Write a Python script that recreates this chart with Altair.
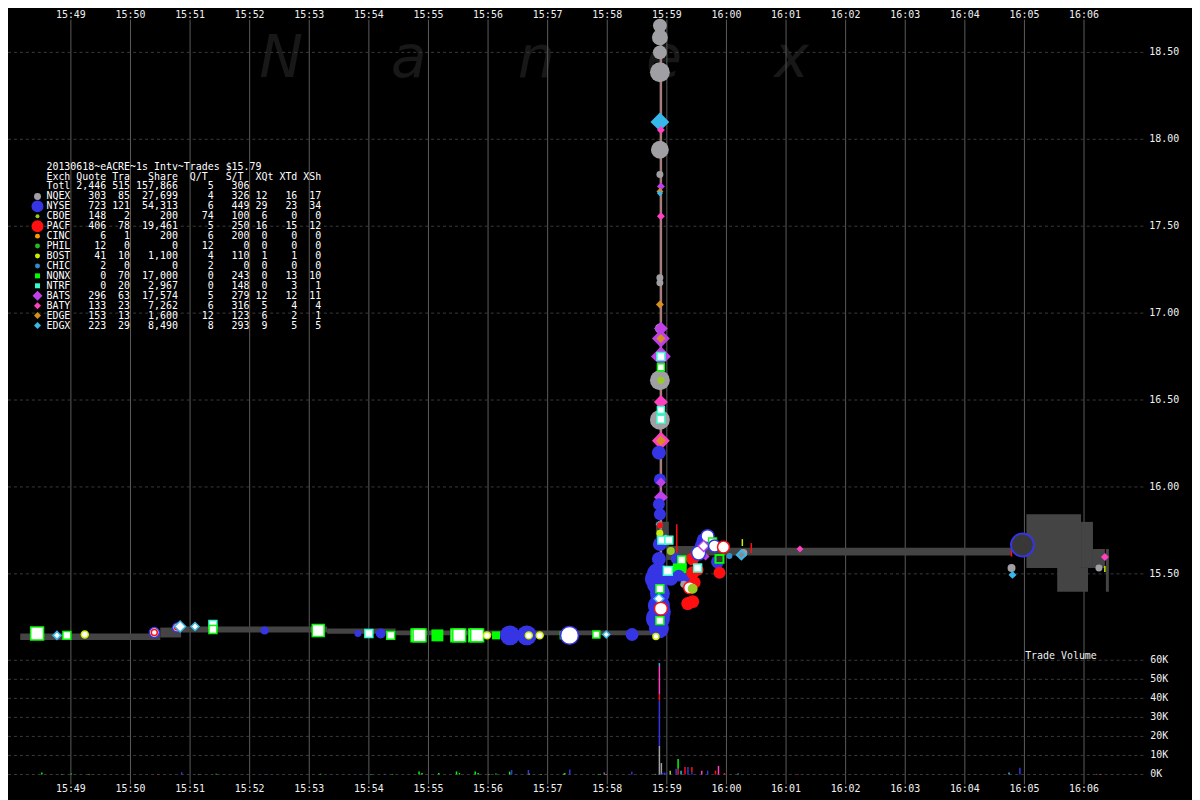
import altair as alt
import pandas as pd

W, H = 1192, 792
MONO = "DejaVu Sans Mono"

# ---------------- exchanges ----------------
EXCH = ["NQEX", "NYSE", "CBOE", "PACF", "CINC", "PHIL", "BOST", "CHIC",
        "NQNX", "NTRF", "BATS", "BATY", "EDGE", "EDGX"]
EX_COLOR = ["#a0a0a4", "#3535e6", "#99cc22", "#ff1010", "#ff9a00", "#22bb22", "#ccee00", "#2f8fce",
            "#00ff00", "#33ffcc", "#c040e8", "#ff40c0", "#d8901c", "#38b8ea"]
EX_SHAPE = ["circle"] * 8 + ["square"] * 2 + ["diamond"] * 4

# ---------------- summary table ----------------
TBL_TITLE = "20130618~eACRE~1s Intv~Trades $15.79"
TBL_HEAD = ["Exch", "Quote", "Tra", "Share", "Q/T", "S/T", "XQt", "XTd", "XSh"]
TBL_TOTAL = ["Totl", "2,446", "515", "157,866", "5", "306"]
TBL_QUOTE = [303, 723, 148, 406, 6, 12, 41, 2, 0, 0, 296, 133, 153, 223]
TBL_TRA = [85, 121, 2, 78, 1, 0, 10, 0, 70, 20, 63, 23, 13, 29]
TBL_SHARE = [27699, 54313, 200, 19461, 200, 0, 1100, 0, 17000, 2967, 17574, 7262, 1600, 8490]
TBL_QT = [4, 6, 74, 5, 6, 12, 4, 2, 0, 0, 5, 6, 12, 8]
TBL_ST = [326, 449, 100, 250, 200, 0, 110, 0, 243, 148, 279, 316, 123, 293]
TBL_XQT = [12, 29, 6, 16, 0, 0, 1, 0, 0, 0, 12, 5, 6, 9]
TBL_XTD = [16, 23, 0, 15, 0, 0, 1, 0, 13, 3, 12, 4, 2, 5]
TBL_XSH = [17, 34, 0, 12, 0, 0, 0, 0, 10, 1, 11, 4, 1, 5]
TBL_SYM_D = [7, 12, 4, 12, 5, 5, 5, 5, 5, 5, 10, 7, 7, 7]

# ---------------- axes ----------------
MIN_T = [0, 60, 120, 180, 240, 300, 360, 420, 480, 540, 600, 660, 720, 780, 840, 900, 960, 1020]
MIN_LABEL = ["15:49", "15:50", "15:51", "15:52", "15:53", "15:54", "15:55", "15:56", "15:57",
             "15:58", "15:59", "16:00", "16:01", "16:02", "16:03", "16:04", "16:05", "16:06"]
PRICE_T = [15.5, 16.0, 16.5, 17.0, 17.5, 18.0, 18.5]
PRICE_LABEL = ["15.50", "16.00", "16.50", "17.00", "17.50", "18.00", "18.50"]
VOL_T = [0, 10000, 20000, 30000, 40000, 50000, 60000]
VOL_LABEL = ["0K", "10K", "20K", "30K", "40K", "50K", "60K"]

# ---------------- NBBO band (seconds after 15:49:00, prices) ----------------
BAND_T1 = [-51, 90, 111, 258, 327, 589, 600, 629, 962, 1017, 1029, 993, 1042]
BAND_T2 = [90, 111, 258, 327, 590, 602, 629, 947, 1017, 1029, 1041, 1024, 1045]
BAND_LO = [15.12, 15.134, 15.162, 15.155, 15.147, 15.66, 15.58, 15.606, 15.534, 15.534, 15.534, 15.397, 15.397]
BAND_HI = [15.157, 15.191, 15.197, 15.186, 15.174, 15.80, 15.66, 15.65, 15.843, 15.799, 15.643, 15.534, 15.643]

# ---------------- quotes (filled) ----------------
Q_T = [195, 289, 312, 369, 428, 442, 459, 496, 565,
       593, 593, 593, 593, 593, 594, 593, 593, 594, 593, 593, 594, 593, 593, 593,
       593, 594, 594, 594, 594, 593, 594, 594, 593, 594, 594, 594,
       592, 593, 594, 594, 592, 593, 592, 593, 593, 604, 593, 591, 589, 592, 591, 593, 599,
       592, 593, 592, 593, 590, 594,
       610, 613, 619, 617, 626, 626, 626, 621, 626, 635, 639, 651, 653, 660, 663, 677,
       604, 631, 637, 612, 628,
       734, 947, 948, 1035, 1041]
Q_P = [15.174, 15.157, 15.157, 15.146, 15.146, 15.146, 15.146, 15.146, 15.151,
       18.654, 18.586, 18.50, 18.386, 18.10, 18.054, 17.94, 17.797, 17.729, 17.70, 17.69, 17.557, 17.203, 17.174, 17.049,
       16.911, 16.911, 16.854, 16.854, 16.751, 16.614, 16.614, 16.489, 16.386, 16.386, 16.266, 16.266,
       16.197, 16.043, 16.026, 15.94, 15.90, 15.843, 15.786, 15.78, 15.734, 15.631, 15.597, 15.50, 15.471, 15.317, 15.243, 15.40, 15.71,
       15.186, 15.386, 15.586, 15.671, 15.44, 15.28,
       15.586, 15.52, 15.471, 15.44, 15.586, 15.506, 15.414, 15.329, 15.34, 15.66, 15.60, 15.569, 15.506, 15.66, 15.603, 15.62,
       15.471, 15.523, 15.694, 15.49, 15.45,
       15.643, 15.534, 15.494, 15.534, 15.597]
Q_EX = ["NYSE", "NYSE", "NYSE", "NQNX", "NQNX", "NYSE", "NYSE", "NQNX", "NYSE",
        "NQEX", "NQEX", "NQEX", "NQEX", "EDGX", "BATY", "NQEX", "NQEX", "BATS", "EDGE", "EDGX", "BATY", "NQEX", "NQEX", "EDGE",
        "NQEX", "BATS", "BATS", "EDGE", "BATS", "NQEX", "CBOE", "BATY", "NQEX", "PACF", "BATY", "EDGE",
        "NYSE", "NYSE", "BATS", "BATS", "NYSE", "NYSE", "EDGX", "PACF", "BOST", "CBOE", "BATS", "NYSE", "NYSE", "NYSE", "NYSE", "NYSE", "EDGX",
        "NYSE", "NYSE", "NYSE", "NYSE", "NYSE", "NYSE",
        "NYSE", "NQNX", "NYSE", "NQEX", "PACF", "PACF", "CBOE", "PACF", "PACF", "NYSE", "BATS", "NYSE", "PACF", "CHIC", "CHIC", "NQEX",
        "NYSE", "PACF", "NYSE", "NYSE", "PACF",
        "BATY", "NQEX", "EDGX", "NQEX", "BATY"]
Q_D = [8, 7, 10, 12, 8, 20, 20, 8, 13,
       14, 16, 14, 20, 19, 8, 18, 7, 8, 7, 6, 8, 7, 7, 8,
       10, 14, 18, 9, 20, 20, 7, 14, 20, 7, 18, 10,
       14, 12, 10, 14, 12, 12, 7, 6, 7, 8, 10, 22, 22, 22, 24, 18, 6,
       20, 20, 14, 14, 20, 20,
       12, 14, 12, 7, 13, 13, 8, 13, 13, 14, 8, 13, 12, 6, 6, 8,
       14, 12, 14, 12, 12,
       7, 8, 8, 7, 8]

# ---------------- trades (white with exchange outline) ----------------
T_T = [-34, -14, -4, 14, 84, 84, 107, 107, 110, 125, 143, 143, 249, 300, 322, 349, 351, 389, 391, 407, 409,
       419, 461, 472, 502, 529, 539, 589,
       594, 594, 594, 594, 595, 592, 594, 593, 593, 601, 602, 615, 623, 631,
       632, 641, 637, 646, 648, 657]
T_P = [15.157, 15.146, 15.146, 15.151, 15.163, 15.163, 15.191, 15.191, 15.197, 15.197, 15.209, 15.18, 15.174, 15.157, 15.146,
       15.146, 15.146, 15.146, 15.146, 15.146, 15.146,
       15.146, 15.146, 15.146, 15.146, 15.151, 15.151, 15.14,
       16.751, 16.689, 16.443, 16.39, 15.694, 15.357, 15.30, 15.414, 15.231, 15.517, 15.694, 15.58, 15.42, 15.534,
       15.62, 15.717, 15.66, 15.683, 15.66, 15.654]
T_EX = ["NQNX", "EDGX", "NQNX", "BOST", "NYSE", "PACF", "NYSE", "PACF", "EDGX", "EDGX", "NTRF", "NQNX", "NQNX", "NTRF", "NQNX",
        "NQNX", "NQNX", "NQNX", "NQNX", "NQNX", "NQNX",
        "BOST", "BOST", "BOST", "NYSE", "NQNX", "EDGX", "BOST",
        "NTRF", "NQNX", "NTRF", "NTRF", "NTRF", "EDGX", "PACF", "NQNX", "NQNX", "NTRF", "NTRF", "NQNX", "PACF", "NTRF",
        "NYSE", "NYSE", "BATS", "NQNX", "NYSE", "PACF"]
T_D = [13, 8, 8, 7, 10, 6, 9, 5, 11, 8, 8, 8, 12, 8, 8, 13, 13, 13, 13, 13, 13,
       7, 7, 7, 18, 7, 7, 6,
       8, 7, 7, 8, 8, 10, 13, 8, 8, 9, 8, 8, 12, 8,
       14, 13, 11, 8, 12, 12]

# ---------------- marks with their own fill ----------------
O_T = [958, 653, 675, 626]
O_P = [15.666, 15.586, 15.609, 15.414]
O_EX = ["NYSE", "NQNX", "EDGX", "CBOE"]
O_FILL = ["#383838", "#383838", "#8a8a8a", "#99cc22"]
O_D = [23, 8, 9, 8]

# ---------------- small trade ticks ----------------
K_T = [610, 685, 676, 947, 1041]
K_P1 = [15.603, 15.62, 15.66, 15.60, 15.51]
K_P2 = [15.786, 15.677, 15.70, 15.64, 15.545]
K_EX = ["PACF", "PACF", "BOST", "PACF", "BOST"]

# ---------------- spike ----------------
SPIKE_T = [594]
SPIKE_LO = [15.15]
SPIKE_HI = [18.63]

# ---------------- trade volume (shares per second) ----------------
V_T = [-34, -14, -4, 14, 84, 108, 125, 143, 195, 249, 289, 300, 314, 322,
       349, 352, 369, 387, 390, 406, 409, 420, 427, 441, 443, 447, 460, 461, 473, 496, 497, 502, 531, 533, 537, 539, 565, 589,
       593, 593, 593, 593, 593,
       595, 596, 598, 600, 604, 610, 612, 612, 615, 619, 622, 626, 626, 636, 642, 650, 653, 659, 673, 734, 948, 959, 1037, 1041]
V_EX = ["NQNX", "EDGX", "NQNX", "BOST", "PACF", "NYSE", "EDGX", "NQNX", "NYSE", "NQNX", "NYSE", "NTRF", "NYSE", "NQNX",
        "NQNX", "NQNX", "NQNX", "NQNX", "NQNX", "NQNX", "NQNX", "BOST", "NQNX", "NQNX", "NYSE", "NYSE", "NYSE", "BOST", "BOST",
        "BOST", "NQNX", "NYSE", "NQNX", "NQNX", "BATS", "BOST", "NYSE", "BOST",
        "NQEX", "NYSE", "PACF", "BATY", "EDGX",
        "NQEX", "NYSE", "NYSE", "NYSE", "CBOE", "NYSE", "PACF", "NQNX", "EDGX", "PACF", "NYSE", "PACF", "NYSE", "BATY", "NYSE",
        "PACF", "BATY", "PACF", "EDGX", "PACF", "EDGX", "NYSE", "BATY", "BATY"]
V_SH = [1000, 300, 500, 300, 300, 1200, 300, 400, 300, 400, 300, 300, 400, 300,
        1600, 800, 800, 1600, 800, 1600, 800, 300, 500, 1500, 2400, 300, 2400, 400, 300, 400, 800, 2600, 300, 300, 1000, 300, 1500, 300,
        15000, 24000, 3000, 15000, 1500,
        6000, 800, 1000, 1000, 2000, 3000, 3000, 5200, 2000, 4000, 4000, 3000, 1000, 2000, 2000, 2000, 4500, 800, 500, 300, 1000, 3500, 300, 300]

WATERMARK = ["N", "a", "n", "e", "x"]

# ================= build =================
xs = alt.Scale(domain=[-63.3, 1128.7], nice=False, zero=False)
ps = alt.Scale(domain=[14.2143, 18.74], nice=False, zero=False)
vs = alt.Scale(domain=[-12000, 401217], nice=False, zero=False)
cs = alt.Scale(domain=EXCH, range=EX_COLOR)
ss = alt.Scale(domain=EXCH, range=EX_SHAPE)

X = lambda f: alt.X(f, scale=xs, axis=None)
YP = lambda f: alt.Y(f, scale=ps, axis=None)

df_min = pd.DataFrame({"t": MIN_T, "lab": MIN_LABEL})
df_pt = pd.DataFrame({"p": PRICE_T, "lab": PRICE_LABEL})
df_vt = pd.DataFrame({"v": VOL_T, "lab": VOL_LABEL})

grid_v = alt.Chart(df_min).mark_rule(color="#5c5c5c", strokeWidth=1).encode(
    x=X("t:Q"), y=alt.value(9), y2=alt.value(779))
grid_p = alt.Chart(df_pt).mark_rule(color="#3a3a3a", strokeDash=[3, 3], strokeWidth=1).encode(
    y=YP("p:Q"), x=alt.value(0), x2=alt.value(1145))
grid_vol = alt.Chart(df_vt).mark_rule(color="#3a3a3a", strokeDash=[3, 3], strokeWidth=1).encode(
    y=alt.Y("v:Q", scale=vs, axis=None), x=alt.value(0), x2=alt.value(1145))

df_wm = pd.DataFrame({"ch": WATERMARK, "i": list(range(len(WATERMARK)))})
df_wm["px"] = 275 + 128.5 * df_wm["i"]
df_wm["py"] = 67
watermark = alt.Chart(df_wm).mark_text(
    font="DejaVu Sans", fontStyle="italic", fontSize=59, color="#181818", align="center",
    baseline="alphabetic").encode(
    x=alt.X("px:Q", scale=None, axis=None), y=alt.Y("py:Q", scale=None, axis=None), text="ch:N")

df_band = pd.DataFrame({"t1": BAND_T1, "t2": BAND_T2, "lo": BAND_LO, "hi": BAND_HI})
band = alt.Chart(df_band).mark_rect(color="#444444").encode(
    x=X("t1:Q"), x2="t2:Q", y=YP("lo:Q"), y2="hi:Q")

df_spike = pd.DataFrame({"t": SPIKE_T, "lo": SPIKE_LO, "hi": SPIKE_HI})
spike = alt.Chart(df_spike).mark_rule(color="#8c8c8c", strokeWidth=2.5).encode(
    x=X("t:Q"), y=YP("lo:Q"), y2="hi:Q")
spike_red = alt.Chart(df_spike).mark_rule(color="#e06060", strokeWidth=0.8).encode(
    x=X("t:Q"), y=YP("lo:Q"), y2="hi:Q")

df_k = pd.DataFrame({"t": K_T, "p1": K_P1, "p2": K_P2, "ex": K_EX})
ticks = alt.Chart(df_k).mark_rule(strokeWidth=1.5).encode(
    x=X("t:Q"), y=YP("p1:Q"), y2="p2:Q", color=alt.Color("ex:N", scale=cs, legend=None))

df_q = pd.DataFrame({"t": Q_T, "p": Q_P, "ex": Q_EX, "d": Q_D})
df_q["s"] = df_q["d"] ** 2
quotes = alt.Chart(df_q).mark_point(filled=True, opacity=1, strokeWidth=0).encode(
    x=X("t:Q"), y=YP("p:Q"),
    color=alt.Color("ex:N", scale=cs, legend=None),
    shape=alt.Shape("ex:N", scale=ss, legend=None),
    size=alt.Size("s:Q", scale=None, legend=None))

df_t = pd.DataFrame({"t": T_T, "p": T_P, "ex": T_EX, "d": T_D})
df_t["s"] = df_t["d"] ** 2
trades = alt.Chart(df_t).mark_point(filled=True, fill="white", opacity=1, strokeWidth=1.5).encode(
    x=X("t:Q"), y=YP("p:Q"),
    stroke=alt.Stroke("ex:N", scale=cs, legend=None),
    shape=alt.Shape("ex:N", scale=ss, legend=None),
    size=alt.Size("s:Q", scale=None, legend=None))

df_o = pd.DataFrame({"t": O_T, "p": O_P, "ex": O_EX, "d": O_D, "fc": O_FILL})
df_o["s"] = df_o["d"] ** 2
outl = alt.Chart(df_o).mark_point(filled=True, opacity=1, strokeWidth=2).encode(
    x=X("t:Q"), y=YP("p:Q"),
    fill=alt.Fill("fc:N", scale=None, legend=None),
    stroke=alt.Stroke("ex:N", scale=cs, legend=None),
    shape=alt.Shape("ex:N", scale=ss, legend=None),
    size=alt.Size("s:Q", scale=None, legend=None))

df_v = pd.DataFrame({"t": V_T, "ex": V_EX, "sh": V_SH})
df_v["oi"] = df_v["ex"].map({e: i for i, e in enumerate(EXCH)})
vol = alt.Chart(df_v).mark_bar(size=1.5, opacity=1).encode(
    x=X("t:Q"), y=alt.Y("sh:Q", scale=vs, axis=None, stack="zero"),
    color=alt.Color("ex:N", scale=cs, legend=None), order=alt.Order("oi:Q"))

txt = dict(font=MONO, fontSize=10, color="#f0f0f0")
time_top = alt.Chart(df_min).mark_text(align="center", baseline="top", **txt).encode(
    x=X("t:Q"), y=alt.value(-0.5), text="lab:N")
time_bot = alt.Chart(df_min).mark_text(align="center", baseline="middle", **txt).encode(
    x=X("t:Q"), y=alt.value(784), text="lab:N")
price_lab = alt.Chart(df_pt).mark_text(align="left", baseline="middle", **txt).encode(
    y=YP("p:Q"), x=alt.value(1149), text="lab:N")
vol_lab = alt.Chart(df_vt).mark_text(align="left", baseline="middle", **txt).encode(
    y=alt.Y("v:Q", scale=vs, axis=None), x=alt.value(1150), text="lab:N")
tv_lab = alt.Chart(pd.DataFrame({"k": [0]})).mark_text(align="left", baseline="middle", **txt).encode(
    x=alt.value(1024), y=alt.value(650), text=alt.value("Trade Volume"))

# table lines (monospace, spaces kept with NBSP)
lines = [TBL_TITLE,
         f"{TBL_HEAD[0]} {TBL_HEAD[1]} {TBL_HEAD[2]}   {TBL_HEAD[3]}  {TBL_HEAD[4]}   {TBL_HEAD[5]}  "
         f"{TBL_HEAD[6]} {TBL_HEAD[7]} {TBL_HEAD[8]}",
         f"{TBL_TOTAL[0]:<4} {TBL_TOTAL[1]:>5} {TBL_TOTAL[2]:>3} {TBL_TOTAL[3]:>7} {TBL_TOTAL[4]:>5} {TBL_TOTAL[5]:>5}"]
for i, e in enumerate(EXCH):
    lines.append(f"{e:<4} {TBL_QUOTE[i]:>5,} {TBL_TRA[i]:>3} {TBL_SHARE[i]:>7,} {TBL_QT[i]:>5} {TBL_ST[i]:>5} "
                 f"{TBL_XQT[i]:>2}{TBL_XTD[i]:>5}{TBL_XSH[i]:>4}")
df_tbl = pd.DataFrame({"line": [l.replace(" ", "\u00a0") for l in lines], "i": list(range(len(lines)))})
df_tbl["py"] = 157 + 10 * df_tbl["i"]
table = alt.Chart(df_tbl).mark_text(align="left", baseline="middle", font=MONO, fontSize=10,
                                    color="#ffffff").encode(
    x=alt.value(38.7), y=alt.Y("py:Q", scale=None, axis=None), text="line:N")

df_leg = pd.DataFrame({"ex": EXCH, "d": TBL_SYM_D, "i": list(range(len(EXCH)))})
df_leg["py"] = 157 + 10 * (df_leg["i"] + 3)
df_leg["s"] = df_leg["d"] ** 2
leg = alt.Chart(df_leg).mark_point(filled=True, opacity=1, strokeWidth=0).encode(
    x=alt.value(29.7), y=alt.Y("py:Q", scale=None, axis=None),
    color=alt.Color("ex:N", scale=cs, legend=None),
    shape=alt.Shape("ex:N", scale=ss, legend=None),
    size=alt.Size("s:Q", scale=None, legend=None))

chart = alt.layer(
    watermark, grid_v, grid_p, grid_vol, band, spike, spike_red, ticks, vol,
    quotes, trades, outl, time_top, time_bot, price_lab, vol_lab, tv_lab, table, leg
).resolve_scale(
    x="independent", y="independent"
).properties(
    width=W, height=H, background="black", padding=0,
    autosize=alt.AutoSizeParams(type="none")
).configure_view(stroke=None)

chart.save("out.html", embed_options={"renderer": "svg", "actions": False})
